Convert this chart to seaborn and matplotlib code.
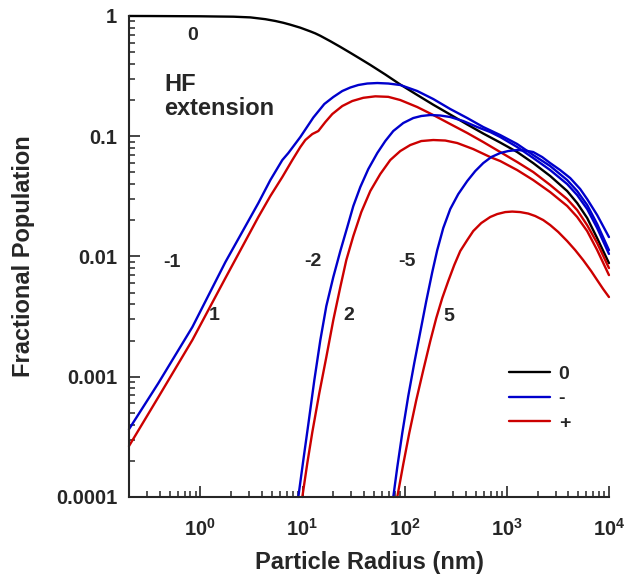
import matplotlib
matplotlib.use("Agg")
import matplotlib.pyplot as plt
import seaborn as sns
import numpy as np
import pandas as pd
from matplotlib.ticker import LogLocator, NullFormatter, FixedLocator, FixedFormatter

# ---------------- data ----------------
x_q0 = [0.2, 0.324, 1.0, 1.402, 2.103, 3.084, 4.325, 5.42, 6.489, 7.598, 9.517, 11.92, 13.34,
        14.94, 18.71, 23.44, 29.36, 36.78, 46.06, 64.6, 90.58, 132.8, 190.5, 279.4, 409.8,
        587.7, 861.7, 1264, 1813, 2659, 3899, 4885, 6118, 7665, 10000]
y_q0 = [1.0, 0.999, 0.9943, 0.9905, 0.9867, 0.9735, 0.9406, 0.9087, 0.8779, 0.8465, 0.7991,
        0.7446, 0.7166, 0.6843, 0.6172, 0.5534, 0.4942, 0.4404, 0.3919, 0.3262, 0.2692, 0.2202,
        0.1828, 0.1515, 0.1252, 0.1053, 0.0886, 0.0739, 0.0598, 0.0467, 0.0350, 0.0278, 0.0209,
        0.0142, 0.00881]

x_qm1 = [0.2, 0.388, 0.835, 1.757, 3.694, 4.841, 6.343, 7.262, 9.517, 12.76, 16.34, 20.01,
         24.51, 29.36, 35.16, 43.06, 53.95, 69.11, 90.58, 132.8, 190.5, 279.4, 409.8, 587.7,
         861.7, 1264, 1813, 2659, 3899, 4885, 6118, 7665, 10000]
y_qm1 = [3.66e-4, 8.85e-4, 2.59e-3, 8.98e-3, 0.0278, 0.0432, 0.0634, 0.0725, 0.0985, 0.1431,
         0.1853, 0.2119, 0.2377, 0.2542, 0.2667, 0.2744, 0.2770, 0.2744, 0.2667, 0.2377, 0.2039,
         0.1684, 0.1417, 0.1193, 0.1023, 0.0861, 0.0698, 0.0565, 0.0432, 0.0350, 0.0268, 0.0186,
         0.0113]

x_qp1 = [0.2, 0.388, 0.835, 1.757, 3.694, 4.841, 6.343, 7.947, 9.517, 10.65, 12.47, 14.28,
         16.72, 19.57, 24.51, 30.72, 39.35, 51.57, 69.11, 90.58, 132.8, 190.5, 279.4, 409.8,
         587.7, 861.7, 1264, 1813, 2659, 3899, 4885, 6118, 7665, 10000]
y_qp1 = [2.65e-4, 6.77e-4, 2.02e-3, 6.61e-3, 0.0213, 0.0318, 0.0458, 0.0634, 0.0813, 0.0930,
         0.1043, 0.1105, 0.1312, 0.1530, 0.1783, 0.1963, 0.2087, 0.2147, 0.2126, 0.2000, 0.1749,
         0.1501, 0.1263, 0.1064, 0.0895, 0.0739, 0.0610, 0.0504, 0.0393, 0.0300, 0.0243, 0.0182,
         0.01293, 0.00801]

x_qm2 = [9.097, 10.18, 11.40, 13.05, 14.94, 17.10, 20.01, 23.44, 27.44, 31.42, 36.78, 44.04,
         53.95, 64.60, 77.36, 96.90, 121.4, 145.4, 178.1, 223.0, 279.4, 374.5, 513.3, 688.0,
         861.7, 1264, 1813, 2659, 3899, 4885, 6118, 7665, 10000]
y_qm2 = [1.0e-4, 2.024e-4, 4.034e-4, 9.37e-4, 2.016e-3, 3.87e-3, 6.74e-3, 0.01109, 0.01757,
         0.02626, 0.0378, 0.0533, 0.0725, 0.0912, 0.1105, 0.1288, 0.1417, 0.1473, 0.1501,
         0.1487, 0.1445, 0.1338, 0.1193, 0.1084, 0.0985, 0.0813, 0.0659, 0.0523, 0.0400,
         0.0324, 0.0248, 0.01723, 0.0105]

x_qp2 = [9.954, 11.14, 12.47, 14.60, 17.10, 20.01, 23.44, 26.83, 31.42, 37.61, 46.06, 57.71,
         72.29, 90.58, 113.4, 145.4, 190.5, 249.6, 327.1, 469.2, 688.0, 861.7, 1264, 1813,
         2659, 3899, 4885, 6118, 7665, 10000]
y_qp2 = [1.0e-4, 1.911e-4, 3.46e-4, 7.31e-4, 1.456e-3, 2.957e-3, 5.57e-3, 9.33e-3, 0.01478,
         0.0234, 0.0350, 0.0485, 0.0634, 0.0753, 0.0845, 0.0912, 0.0930, 0.0921, 0.0878,
         0.0782, 0.0671, 0.0622, 0.0523, 0.0432, 0.0343, 0.0263, 0.0213, 0.01627, 0.0113,
         0.00700]

x_qm5 = [77.36, 84.67, 94.74, 108.4, 124.1, 142.1, 162.7, 186.3, 208.4, 238.6, 279.4, 334.5,
         409.8, 490.8, 587.7, 703.9, 861.7, 1032, 1264, 1514, 1813, 2220, 2659, 3331, 4173,
         5226, 6118, 7665, 10000]
y_qm5 = [1.0e-4, 1.770e-4, 3.40e-4, 6.90e-4, 1.297e-3, 2.350e-3, 4.256e-3, 7.42e-3, 0.0113,
         0.01723, 0.0248, 0.0330, 0.0424, 0.0513, 0.0598, 0.0671, 0.0725, 0.0753, 0.0768,
         0.0760, 0.0739, 0.0671, 0.0598, 0.0523, 0.0449, 0.0364, 0.0300, 0.0221, 0.0145]

x_qp5 = [84.67, 96.90, 110.9, 129.9, 152.1, 178.1, 203.8, 233.3, 267.1, 305.7, 349.9, 409.8,
         469.2, 561.7, 688.0, 805.6, 964.5, 1129, 1352, 1620, 1897, 2271, 2659, 3184, 3899,
         4670, 5592, 6696, 7665, 8774, 10000]
y_qp5 = [1.0e-4, 1.875e-4, 3.40e-4, 6.39e-4, 1.134e-3, 1.978e-3, 3.073e-3, 4.508e-3, 6.243e-3,
         8.48e-3, 0.01109, 0.01369, 0.01627, 0.01896, 0.0213, 0.02253, 0.0234, 0.02363, 0.0234,
         0.02275, 0.0217, 0.02009, 0.01825, 0.0160, 0.01343, 0.0113, 0.00933, 0.00756, 0.00636,
         0.00536, 0.00460]

curve_labels = ["0", "HF\nextension", "-1", "1", "-2", "2", "-5", "5"]
legend_labels = ["0", "-", "+"]
ytick_vals = [1e-4, 1e-3, 1e-2, 1e-1, 1]
ytick_labels = ["0.0001", "0.001", "0.01", "0.1", "1"]
xtick_vals = [1, 10, 100, 1000, 10000]
xtick_labels = [r"$\mathbf{10^{0}}$", r"$\mathbf{10^{1}}$", r"$\mathbf{10^{2}}$",
                r"$\mathbf{10^{3}}$", r"$\mathbf{10^{4}}$"]

# ---------------- style ----------------
sns.set_style("ticks")
plt.rcParams["font.family"] = ["Liberation Sans", "DejaVu Sans"]
plt.rcParams["font.weight"] = "bold"
plt.rcParams["mathtext.fontset"] = "custom"
plt.rcParams["mathtext.bf"] = "Liberation Sans:bold"
plt.rcParams["mathtext.rm"] = "Liberation Sans:bold"

BLACK = "#000000"
BLUE = "#0000CC"
RED = "#CC0000"

fig = plt.figure(figsize=(6.24, 5.75), dpi=100)
ax = fig.add_axes([0.2067, 0.1357, 0.7692, 0.8365])

curves = [
    (x_q0, y_q0, BLACK, "0"),
    (x_qm1, y_qm1, BLUE, "-"),
    (x_qp1, y_qp1, RED, "+"),
    (x_qm2, y_qm2, BLUE, None),
    (x_qp2, y_qp2, RED, None),
    (x_qm5, y_qm5, BLUE, None),
    (x_qp5, y_qp5, RED, None),
]
for xs, ys, col, lab in curves:
    df = pd.DataFrame({"radius": xs, "fraction": ys})
    sns.lineplot(data=df, x="radius", y="fraction", color=col, linewidth=1.7,
                 ax=ax, clip_on=False, legend=False,
                 label=lab if lab else "_nolegend_")

ax.set_xscale("log")
ax.set_yscale("log")
ax.set_xlim(0.2, 1e4)
ax.set_ylim(1e-4, 1)

sns.despine(ax=ax)
for s in ["left", "bottom"]:
    ax.spines[s].set_linewidth(1.5)

ax.xaxis.set_major_locator(FixedLocator(xtick_vals))
ax.xaxis.set_major_formatter(FixedFormatter(xtick_labels))
ax.xaxis.set_minor_locator(LogLocator(base=10, subs=np.arange(2, 10), numticks=20))
ax.xaxis.set_minor_formatter(NullFormatter())
ax.yaxis.set_major_locator(FixedLocator(ytick_vals))
ax.yaxis.set_major_formatter(FixedFormatter(ytick_labels))
ax.yaxis.set_minor_locator(LogLocator(base=10, subs=np.arange(2, 10), numticks=20))
ax.yaxis.set_minor_formatter(NullFormatter())

ax.tick_params(which="major", direction="in", length=8, width=1.2, labelsize=14.5)
ax.tick_params(which="minor", direction="in", length=4.3, width=1.1)
ax.tick_params(axis="y", which="major", pad=8.5)
ax.tick_params(axis="x", which="major", pad=15)
for t in ax.get_yticklabels():
    t.set_fontweight("bold")

ax.set_xlabel("Particle Radius (nm)", fontsize=17, fontweight="bold", labelpad=8)
ax.set_ylabel("Fractional Population", fontsize=17, fontweight="bold", labelpad=15)

# curve annotations
txt = dict(transform=ax.transAxes, fontsize=14, fontweight="bold", ha="center", va="center")
ax.text(0.133, 0.960, curve_labels[0], **txt)
ax.text(0.073, 0.8326, curve_labels[1], transform=ax.transAxes, fontsize=17,
        fontweight="bold", ha="left", va="center", linespacing=1.1)
ax.text(0.0896, 0.4865, curve_labels[2], **txt)
ax.text(0.177, 0.378, curve_labels[3], **txt)
ax.text(0.383, 0.4886, curve_labels[4], **txt)
ax.text(0.458, 0.378, curve_labels[5], **txt)
ax.text(0.579, 0.4886, curve_labels[6], **txt)
ax.text(0.667, 0.376, curve_labels[7], **txt)

handles, labels = ax.get_legend_handles_labels()
order = [labels.index(l) for l in legend_labels]
ax.legend([handles[i] for i in order], legend_labels, frameon=False,
          loc="upper left", bbox_to_anchor=(0.792, 0.274), borderaxespad=0,
          borderpad=0, handlelength=2.1, handletextpad=0.45, labelspacing=0.36,
          prop={"size": 14, "weight": "bold"})

fig.savefig("out.png", dpi=100)
